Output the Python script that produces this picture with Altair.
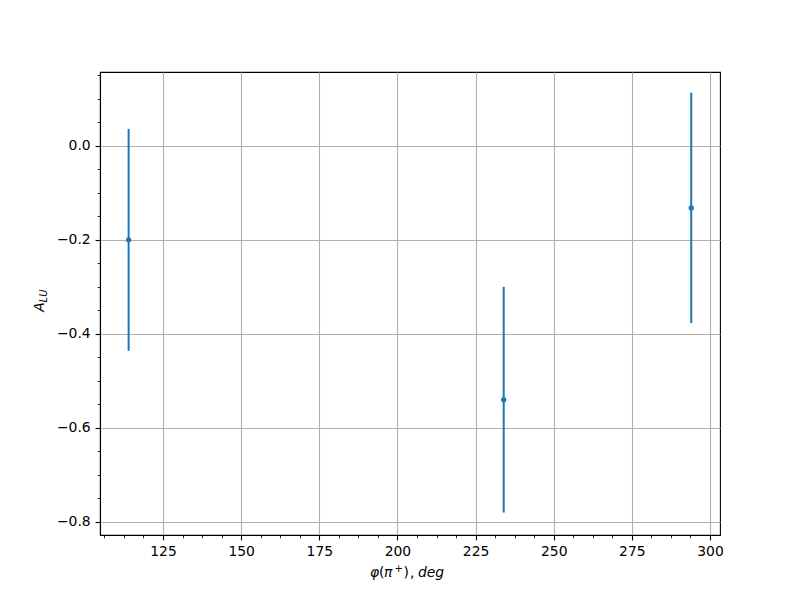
import altair as alt
import pandas as pd

phi = [114, 234, 294]
alu = [-0.200, -0.540, -0.132]
err = [0.236, 0.240, 0.245]

x_major = [125, 150, 175, 200, 225, 250, 275, 300]
y_major = [-0.8, -0.6, -0.4, -0.2, 0.0]

df = pd.DataFrame({"phi": phi, "alu": alu, "err": err})
df["lo"] = df["alu"] - df["err"]
df["hi"] = df["alu"] + df["err"]

x_ticks = [106.25 + 6.25 * i for i in range(32)]
y_ticks = [round(-0.8 + 0.05 * i, 2) for i in range(20)]

xdom = [104.84, 303.2]
ydom = [-0.8277, 0.157]

BLUE = "#1f77b4"
FONT = "DejaVu Sans"

xmaj = "abs(round(datum.value*100)) % 2500 === 0"
ymaj = "abs(round(datum.value*100)) % 20 === 0"

xaxis = alt.Axis(
    values=x_ticks, title=None, grid=True,
    gridColor="#b0b0b0", gridWidth=1.1,
    gridOpacity={"condition": {"test": xmaj, "value": 1}, "value": 0},
    tickSize={"condition": {"test": xmaj, "value": 4.9}, "value": 2.8},
    tickWidth={"condition": {"test": xmaj, "value": 1.1}, "value": 0.85},
    tickColor="black", domainColor="black", domainWidth=1.1,
    labelExpr=f"{xmaj} ? format(datum.value, 'd') : ''",
    labelFont=FONT, labelFontSize=13.9, labelColor="black", labelPadding=4.9,
    labelFlush=False, labelOverlap=False,
)
yaxis = alt.Axis(
    values=y_ticks, title=None, grid=True,
    gridColor="#b0b0b0", gridWidth=1.1,
    gridOpacity={"condition": {"test": ymaj, "value": 1}, "value": 0},
    tickSize={"condition": {"test": ymaj, "value": 4.9}, "value": 2.8},
    tickWidth={"condition": {"test": ymaj, "value": 1.1}, "value": 0.85},
    tickColor="black", domainColor="black", domainWidth=1.1,
    labelExpr=f"{ymaj} ? replace(format(datum.value, '.1f'), '-', '\u2212') : ''",
    labelFont=FONT, labelFontSize=13.9, labelColor="black", labelPadding=4.9,
    labelFlush=False, labelOverlap=False,
)

xs = alt.Scale(domain=xdom, nice=False, zero=False)
ys = alt.Scale(domain=ydom, nice=False, zero=False)

base = alt.Chart(df)
rules = base.mark_rule(color=BLUE, strokeWidth=2).encode(
    x=alt.X("phi:Q", scale=xs, axis=xaxis),
    y=alt.Y("lo:Q", scale=ys, axis=yaxis),
    y2="hi:Q",
)
pts = base.mark_circle(color=BLUE, size=28, opacity=1).encode(
    x=alt.X("phi:Q", scale=xs, axis=xaxis),
    y=alt.Y("alu:Q", scale=ys, axis=yaxis),
)

lab = alt.Data(values=[{}])


def piece(text, x, y, size=13.9, style="normal", angle=0):
    return alt.Chart(lab).mark_text(
        text=text, font=FONT, fontSize=size, fontStyle=style, color="black",
        align="left", baseline="alphabetic", angle=angle,
    ).encode(x=alt.value(x), y=alt.value(y))


xt = [
    piece("\u03c6", 270, 505, style="italic"),
    piece("(", 279, 505),
    piece("\u03c0", 284, 505, style="italic"),
    piece("+", 294.5, 500, size=10),
    piece(")", 303.5, 505),
    piece(",", 310, 505),
    piece("deg", 318, 505, style="italic"),
]
ytitleA = alt.Chart(lab).mark_text(
    text="A", font=FONT, fontSize=13.9, fontStyle="italic", color="black",
    angle=270, align="center", baseline="middle",
).encode(x=alt.value(-60), y=alt.value(235))
ytitleLU = alt.Chart(lab).mark_text(
    text="LU", font=FONT, fontSize=10, fontStyle="italic", color="black",
    angle=270, align="center", baseline="middle",
).encode(x=alt.value(-56), y=alt.value(224))

chart = alt.layer(rules, pts, *xt, ytitleA, ytitleLU).properties(
    width=620, height=463,
    autosize=alt.AutoSizeParams(type="none"),
    padding={"left": 92, "top": 64, "right": 72, "bottom": 57},
    background="white",
).configure_view(stroke="black", strokeWidth=1.1)

chart.save("out.html", embed_options={"renderer": "svg", "actions": False})
